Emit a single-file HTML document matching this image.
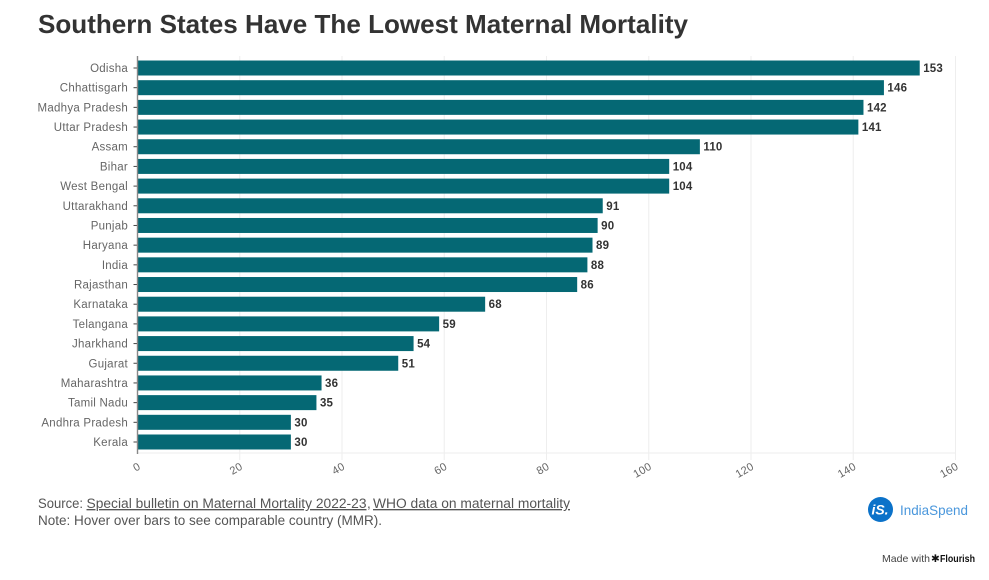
<!DOCTYPE html>
<html lang="en">
<head>
<meta charset="utf-8">
<title>Southern States Have The Lowest Maternal Mortality</title>
<style>
html,body{margin:0;padding:0;background:#fff;width:989px;height:580px;overflow:hidden}
#chart{position:absolute;left:0;top:0;width:989px;height:580px;display:block}
text{font-family:"Liberation Sans",sans-serif}
</style>
</head>
<body>
<svg id="chart" xmlns="http://www.w3.org/2000/svg" width="989" height="580" viewBox="0 0 989 580">
  <text x="38" y="33" font-size="26" font-weight="700" fill="#333333" textLength="650" lengthAdjust="spacingAndGlyphs">Southern States Have The Lowest Maternal Mortality</text>
  <g id="grid"></g>
  <g id="bars"></g>
  <g id="yaxis"></g>
  <g id="xaxis"></g>
  <g font-size="13.5" fill="#555555">
    <text x="38" y="508" textLength="45" lengthAdjust="spacingAndGlyphs">Source:</text>
    <a><text x="86.5" y="508" textLength="280" lengthAdjust="spacingAndGlyphs" text-decoration="underline">Special bulletin on Maternal Mortality 2022-23</text></a>
    <text x="367" y="508">,</text>
    <a><text x="373" y="508" textLength="197" lengthAdjust="spacingAndGlyphs" text-decoration="underline">WHO data on maternal mortality</text></a>
    <text x="38" y="525" textLength="344" lengthAdjust="spacingAndGlyphs">Note: Hover over bars to see comparable country (MMR).</text>
  </g>
  <g>
    <circle cx="880.5" cy="509.5" r="12.5" fill="#0b72c9"/>
    <text x="880" y="514.5" font-size="14" font-weight="700" font-style="italic" fill="#ffffff" text-anchor="middle">iS.</text>
    <text x="900" y="515" font-size="14" fill="#4a97dc" textLength="68" lengthAdjust="spacingAndGlyphs">IndiaSpend</text>
  </g>
  <g>
    <text x="882" y="562" font-size="10.5" fill="#444444" textLength="48" lengthAdjust="spacingAndGlyphs">Made with</text>
    <text x="931" y="562" font-size="10.5" fill="#111111">✱</text>
    <text x="940" y="562" font-size="10.5" font-weight="700" fill="#111111" textLength="35" lengthAdjust="spacingAndGlyphs">Flourish</text>
  </g>
</svg>
<script>
const categories = ["Odisha","Chhattisgarh","Madhya Pradesh","Uttar Pradesh","Assam","Bihar","West Bengal","Uttarakhand","Punjab","Haryana","India","Rajasthan","Karnataka","Telangana","Jharkhand","Gujarat","Maharashtra","Tamil Nadu","Andhra Pradesh","Kerala"];
const values = [153,146,142,141,110,104,104,91,90,89,88,86,68,59,54,51,36,35,30,30];
const xTicks = [0,20,40,60,80,100,120,140,160];

const NS = "http://www.w3.org/2000/svg";
const plotLeft = 137.5, plotRight = 955.5, plotTop = 56, plotBottom = 453;
const firstRow = 68, rowStep = 19.684, barH = 15;
const xMax = xTicks[xTicks.length - 1];

function xScale(v){ return plotLeft + (v / xMax) * (plotRight - plotLeft); }
function yScale(i){ return firstRow + i * rowStep; }
function make(tag, attrs, parent, txt){
  const el = document.createElementNS(NS, tag);
  for (const k in attrs) el.setAttribute(k, attrs[k]);
  if (txt !== undefined) el.textContent = txt;
  parent.appendChild(el);
  return el;
}

const grid = document.getElementById("grid");
const bars = document.getElementById("bars");
const yaxis = document.getElementById("yaxis");
const xaxis = document.getElementById("xaxis");

xTicks.forEach(function(t){
  const x = xScale(t);
  if (t !== 0) {
    const g = make("line", {x1:x, x2:x, y1:plotTop, y2:plotBottom + 7, stroke:"#eeeeee", "stroke-width":1}, grid);
    
    
  }
  const ax = x + 2, ay = 465.5;
  const lab = make("text", {x:ax, y:ay + 3.5, "font-size":11, fill:"#666666", "text-anchor":"end", "letter-spacing":"0.3", transform:"rotate(-30 " + ax + " " + ay + ")"}, xaxis, String(t));
  
  
});

const baseline = make("line", {x1:plotLeft, x2:plotRight, y1:plotBottom, y2:plotBottom, stroke:"#eeeeee", "stroke-width":1}, grid);



categories.forEach(function(c, i){
  const y = yScale(i);
  const r = make("rect", {x:plotLeft, y:y - barH / 2, width:xScale(values[i]) - plotLeft, height:barH, fill:"#056874"}, bars);
  
  
  const v = make("text", {x:xScale(values[i]) + 3.5, y:y + 4, "font-size":11.5, "font-weight":700, fill:"#333333", "letter-spacing":"0.2"}, bars, String(values[i]));
  
  
  const l = make("text", {x:128, y:y + 4, "font-size":11.5, fill:"#666666", "text-anchor":"end", "letter-spacing":"0.25"}, yaxis, c);
  
  
  const tk = make("line", {x1:plotLeft - 4, x2:plotLeft, y1:y, y2:y, stroke:"#444444", "stroke-width":1}, yaxis);
  
  
});

const axisLine = make("line", {x1:plotLeft, x2:plotLeft, y1:plotTop, y2:plotBottom + 1, stroke:"#888888", "stroke-width":1.4}, yaxis);


</script>
</body>
</html>
